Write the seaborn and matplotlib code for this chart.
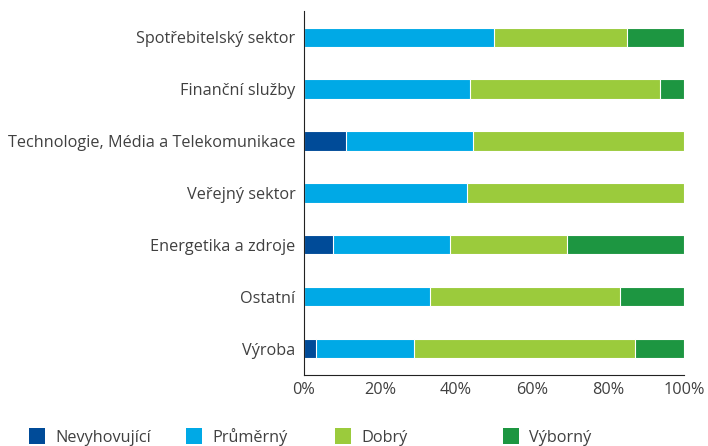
import numpy as np
import pandas as pd
import matplotlib.pyplot as plt
import seaborn as sns
from matplotlib.patches import Rectangle
from matplotlib.ticker import PercentFormatter

categories = ["Spotřebitelský sektor", "Finanční služby", "Technologie, Média a Telekomunikace",
              "Veřejný sektor", "Energetika a zdroje", "Ostatní", "Výroba"]
nevyhovujici = [0.0, 0.0, 11.1, 0.0, 7.7, 0.0, 3.2]
prumerny = [50.0, 43.75, 33.3, 42.9, 30.8, 33.3, 25.8]
dobry = [35.0, 50.0, 55.6, 57.1, 30.8, 50.0, 58.1]
vyborny = [15.0, 6.25, 0.0, 0.0, 30.7, 16.7, 12.9]
series_names = ["Nevyhovující", "Průměrný", "Dobrý", "Výborný"]
colors = ["#004b98", "#00a9e6", "#9bcb3c", "#1d9641"]

sns.set_style("white")
plt.rcParams['font.family'] = ['Open Sans', 'DejaVu Sans']
text_color = "#404040"
fs = 11.7

df = pd.DataFrame({"kategorie": categories, "s0": nevyhovujici, "s1": prumerny,
                   "s2": dobry, "s3": vyborny})
cum = df[["s0", "s1", "s2", "s3"]].cumsum(axis=1)

W, H = 708, 446
fig, ax = plt.subplots(figsize=(W / 100, H / 100), dpi=100)
fig.subplots_adjust(left=0.429, right=0.966, top=0.975, bottom=0.16)

# draw from the widest cumulative bar down so each segment sits on the next
for i in range(3, -1, -1):
    sns.barplot(x=cum["s%d" % i], y=df["kategorie"], orient="h", color=colors[i],
                width=0.37, edgecolor="white", linewidth=0.8, ax=ax, saturation=1)

ax.set_xlim(0, 100)
ax.set_ylim(6.5, -0.5)
ax.set_xticks([0, 20, 40, 60, 80, 100])
ax.xaxis.set_major_formatter(PercentFormatter(decimals=0))
ax.set_xlabel("")
ax.set_ylabel("")
for s in ["top", "right"]:
    ax.spines[s].set_visible(False)
ax.spines["left"].set_color("#222222")
ax.spines["bottom"].set_color("#222222")
ax.tick_params(axis="x", direction="in", length=7, color="#222222", labelsize=fs,
               labelcolor=text_color, pad=5)
ax.tick_params(axis="y", length=0, labelsize=fs, labelcolor=text_color, pad=6)

# legend along the bottom, swatch + label per series (pixel layout)
legend_px = [29, 186, 335, 503]
for name, c, px in zip(series_names, colors, legend_px):
    fig.add_artist(Rectangle((px / W, (H - 444) / H), 16 / W, 16 / H,
                             transform=fig.transFigure, facecolor=c, edgecolor="none"))
    fig.text((px + 26) / W, (H - 442) / H, name, fontsize=fs, color=text_color,
             va="baseline", ha="left")

plt.savefig("out.png", dpi=100)
